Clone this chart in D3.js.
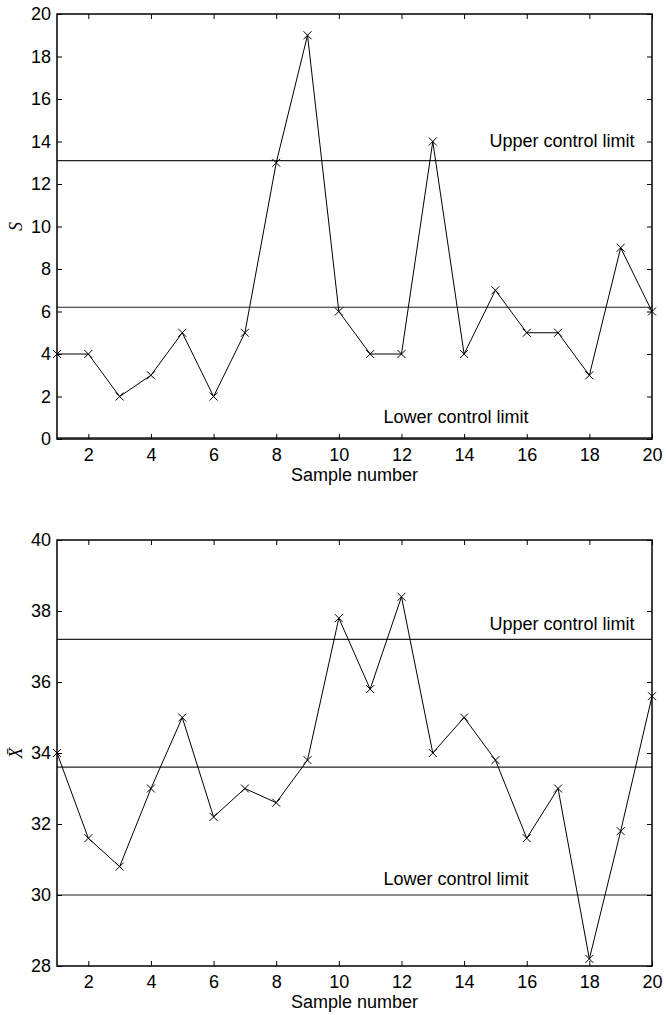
<!DOCTYPE html>
<html>
<head>
<meta charset="utf-8">
<script src="https://cdn.jsdelivr.net/npm/d3@7"></script>
<style>
  body { margin: 0; background: #fff; }
  svg { display: block; font-family: "Liberation Sans", Arial, sans-serif; }
</style>
</head>
<body>
<div id="chart"></div>
<script>
// sample numbers
const samples = d3.range(1, 21);

// S chart (sample standard deviation)
const sValues = [4, 4, 2, 3, 5, 2, 5, 13, 19, 6, 4, 4, 14, 4, 7, 5, 5, 3, 9, 6];
const sCenter = 6.2;
const sUCL = 13.1;
const sLCL = 0.05;
const sTicks = [0, 2, 4, 6, 8, 10, 12, 14, 16, 18, 20];

// X-bar chart (sample means)
const xbarValues = [34, 31.6, 30.8, 33, 35, 32.2, 33, 32.6, 33.8, 37.8, 35.8, 38.4, 34, 35, 33.8, 31.6, 33, 28.2, 31.8, 35.6];
const xbarCenter = 33.6;
const xbarUCL = 37.2;
const xbarLCL = 30;
const xbarTicks = [28, 30, 32, 34, 36, 38, 40];

const xTicks = [2, 4, 6, 8, 10, 12, 14, 16, 18, 20];

const W = 666, H = 1015;
const FS = "18px";
const svg = d3.select("#chart").append("svg")
    .attr("width", W)
    .attr("height", H);

function drawPanel(opts) {
    const left = 57, right = 652;
    const top = opts.top, bottom = opts.top + opts.height;

    const x = d3.scaleLinear().domain([1, 20]).range([left, right]);
    const y = d3.scaleLinear().domain(opts.domain).range([bottom, top]);

    const g = svg.append("g");

    // control lines
    [opts.ucl, opts.center, opts.lcl].forEach(v => {
        g.append("line")
            .attr("x1", left).attr("x2", right)
            .attr("y1", y(v)).attr("y2", y(v))
            .attr("stroke", "#222")
            .attr("stroke-width", 1.2);
    });

    // axes with inward ticks
    const tickLen = 5;
    g.append("g")
        .attr("transform", `translate(0,${bottom})`)
        .call(d3.axisBottom(x).tickValues(xTicks).tickSizeInner(-tickLen).tickSizeOuter(0).tickPadding(9))
        .call(a => a.select(".domain").remove())
        .selectAll("text").style("font-size", FS).attr("fill", "#000");
    g.append("g")
        .attr("transform", `translate(0,${top})`)
        .call(d3.axisTop(x).tickValues(xTicks).tickSizeInner(-tickLen).tickSizeOuter(0).tickFormat(""))
        .call(a => a.select(".domain").remove());
    g.append("g")
        .attr("transform", `translate(${left},0)`)
        .call(d3.axisLeft(y).tickValues(opts.ticks).tickSizeInner(-tickLen).tickSizeOuter(0).tickPadding(6))
        .call(a => a.select(".domain").remove())
        .selectAll("text").style("font-size", FS).attr("fill", "#000");
    g.append("g")
        .attr("transform", `translate(${right},0)`)
        .call(d3.axisRight(y).tickValues(opts.ticks).tickSizeInner(-tickLen).tickSizeOuter(0).tickFormat(""))
        .call(a => a.select(".domain").remove());

    // frame
    g.append("rect")
        .attr("x", left).attr("y", top)
        .attr("width", right - left).attr("height", bottom - top)
        .attr("fill", "none")
        .attr("stroke", "#000")
        .attr("stroke-width", 1.5);

    // data line
    const line = d3.line().x((d, i) => x(samples[i])).y(d => y(d));
    g.append("path")
        .datum(opts.values)
        .attr("d", line)
        .attr("fill", "none")
        .attr("stroke", "#000")
        .attr("stroke-width", 1);

    // x markers
    const m = 4;
    g.selectAll(".mark")
        .data(opts.values)
        .enter().append("path")
        .attr("class", "mark")
        .attr("d", (d, i) => {
            const cx = x(samples[i]), cy = y(d);
            return `M${cx - m},${cy - m}L${cx + m},${cy + m}M${cx - m},${cy + m}L${cx + m},${cy - m}`;
        })
        .attr("stroke", "#000")
        .attr("stroke-width", 1);

    // control limit labels
    g.append("text")
        .attr("x", 562).attr("y", opts.uclLabelY)
        .attr("text-anchor", "middle")
        .attr("dominant-baseline", "middle")
        .style("font-size", FS)
        .text("Upper control limit");
    g.append("text")
        .attr("x", 456).attr("y", opts.lclLabelY)
        .attr("text-anchor", "middle")
        .attr("dominant-baseline", "middle")
        .style("font-size", FS)
        .text("Lower control limit");

    // x axis title
    g.append("text")
        .attr("x", (left + right) / 2)
        .attr("y", bottom + 37)
        .attr("text-anchor", "middle")
        .attr("dominant-baseline", "middle")
        .style("font-size", FS)
        .text("Sample number");

    // y axis title
    g.append("text")
        .attr("transform", `translate(18,${(top + bottom) / 2}) rotate(-90)`)
        .attr("text-anchor", "middle")
        .attr("dominant-baseline", "middle")
        .style("font-family", "'Liberation Serif', 'DejaVu Serif', serif")
        .style("font-style", "italic")
        .style("font-size", "18px")
        .text(opts.yLabel);
}

drawPanel({
    top: 14, height: 425, domain: [0, 20], ticks: sTicks,
    values: sValues, center: sCenter, ucl: sUCL, lcl: sLCL,
    uclLabelY: 142, lclLabelY: 418, yLabel: "S"
});

drawPanel({
    top: 540, height: 426, domain: [28, 40], ticks: xbarTicks,
    values: xbarValues, center: xbarCenter, ucl: xbarUCL, lcl: xbarLCL,
    uclLabelY: 625, lclLabelY: 880, yLabel: "X\u0304"
});
</script>
</body>
</html>
